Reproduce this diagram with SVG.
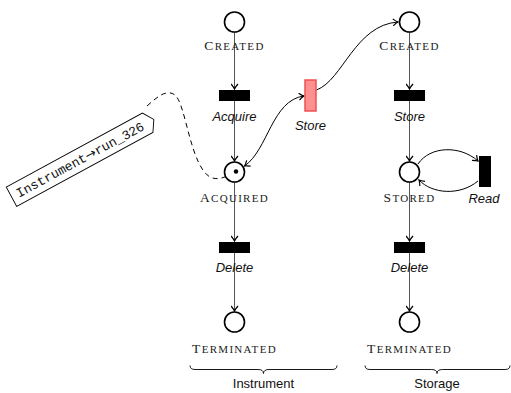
<svg xmlns="http://www.w3.org/2000/svg" width="511" height="393" viewBox="0 0 511 393">
<style>
.place{fill:#fff;stroke:#000;stroke-width:1.6}
.trans{fill:#000}
.red{fill:#ff9090;stroke:#f05050;stroke-width:1.5}
.sc{font-family:"Liberation Serif",serif;font-size:11px;fill:#222;text-anchor:middle;letter-spacing:1.3px}
.sc .b{font-size:13.5px}
.it{font-family:"Liberation Sans",sans-serif;font-style:italic;font-size:13px;fill:#111;text-anchor:middle}
.sans{font-family:"Liberation Sans",sans-serif;font-size:13px;fill:#111;text-anchor:middle}
.mono{font-family:"Liberation Mono",monospace;font-size:13px;fill:#111;text-anchor:middle}
.mono .ar{font-family:"DejaVu Sans",sans-serif}
.arc{fill:none;stroke:#555;stroke-width:1}
.cur{fill:none;stroke:#000;stroke-width:1}
.dash{fill:none;stroke:#000;stroke-width:1;stroke-dasharray:5,4}
.brace{fill:none;stroke:#000;stroke-width:0.9}
</style>
<defs>
<marker id="arr" viewBox="-6 -4 7 8" markerWidth="7" markerHeight="8" refX="0" refY="0" orient="auto-start-reverse" markerUnits="userSpaceOnUse">
<path d="M-5,-3.5 Q-2,-0.8 0,0 Q-2,0.8 -5,3.5" fill="none" stroke="#000" stroke-width="1.2"/>
</marker>
</defs>

<g id="connectors">
<path class="arc" d="M234.5,32 L234.5,89" marker-end="url(#arr)"/>
<path class="arc" d="M234.5,101 L234.5,161" marker-end="url(#arr)"/>
<path class="arc" d="M234.5,182 L234.5,241" marker-end="url(#arr)"/>
<path class="arc" d="M234.5,253 L234.5,311" marker-end="url(#arr)"/>
<path class="arc" d="M409.5,32 L409.5,89" marker-end="url(#arr)"/>
<path class="arc" d="M409.5,101 L409.5,161" marker-end="url(#arr)"/>
<path class="arc" d="M409.5,182 L409.5,241" marker-end="url(#arr)"/>
<path class="arc" d="M409.5,253 L409.5,311" marker-end="url(#arr)"/>
<path class="cur" d="M244.5,166 C268,150 272,100 304,96" marker-start="url(#arr)" marker-end="url(#arr)"/>
<path class="cur" d="M316.5,90 C343,80 355,25 398,22" marker-end="url(#arr)"/>
<path class="cur" d="M418,164 C430,146 460,145 478,161" marker-end="url(#arr)"/>
<path class="cur" d="M478,181 C460,196 432,194 419,180" marker-end="url(#arr)"/>
<path class="dash" d="M147,106 C158,96 167,89 175,95 C186,104 190,165 210,177 C218,181 226,177 235.5,171.5"/>
</g>

<g id="inst-created">
<circle class="place" cx="234.5" cy="22" r="10"/>
<text class="sc" x="234.5" y="50"><tspan class="b">C</tspan>REATED</text>
</g>
<g id="inst-acquire">
<rect class="trans" x="219" y="90" width="31" height="11"/>
<text class="it" x="234.5" y="121">Acquire</text>
</g>
<g id="inst-acquired">
<circle class="place" cx="234.5" cy="172" r="10"/>
<circle cx="236" cy="171.5" r="2.2" fill="#000"/>
<text class="sc" x="234.5" y="202"><tspan class="b">A</tspan>CQUIRED</text>
</g>
<g id="inst-delete">
<rect class="trans" x="219" y="242" width="31" height="11"/>
<text class="it" x="234.5" y="272">Delete</text>
</g>
<g id="inst-terminated">
<circle class="place" cx="234.5" cy="322" r="10"/>
<text class="sc" x="234.5" y="353"><tspan class="b">T</tspan>ERMINATED</text>
</g>

<g id="store-transfer">
<rect class="red" x="305" y="80" width="11" height="31"/>
<text class="it" x="310.5" y="130">Store</text>
</g>

<g id="stor-created">
<circle class="place" cx="409.5" cy="22" r="10"/>
<text class="sc" x="409.5" y="50"><tspan class="b">C</tspan>REATED</text>
</g>
<g id="stor-store">
<rect class="trans" x="394" y="90" width="31" height="11"/>
<text class="it" x="409.5" y="121">Store</text>
</g>
<g id="stor-stored">
<circle class="place" cx="409.5" cy="172" r="10"/>
<text class="sc" x="409.5" y="202"><tspan class="b">S</tspan>TORED</text>
</g>
<g id="stor-read">
<rect class="trans" x="479" y="156" width="12" height="31"/>
<text class="it" x="484" y="203">Read</text>
</g>
<g id="stor-delete">
<rect class="trans" x="394" y="242" width="31" height="11"/>
<text class="it" x="409.5" y="272">Delete</text>
</g>
<g id="stor-terminated">
<circle class="place" cx="409.5" cy="322" r="10"/>
<text class="sc" x="409.5" y="353"><tspan class="b">T</tspan>ERMINATED</text>
</g>

<g id="token-label" transform="translate(80,159.5) rotate(-28.5)">
<path d="M-78,-11 L77,-11 L84,0 L77,11 L-78,11 Z" fill="#fff" stroke="#000" stroke-width="0.9"/>
<text class="mono" x="0" y="4.5">Instrument<tspan class="ar">→</tspan>run_326</text>
</g>

<g id="brace-instrument">
<path class="brace" d="M190,365.5 Q190,369.5 195,369.5 L258,369.5 Q263.5,369.5 263.5,373.5 Q263.5,369.5 269,369.5 L332,369.5 Q337,369.5 337,365.5"/>
<text class="sans" x="263.5" y="388">Instrument</text>
</g>
<g id="brace-storage">
<path class="brace" d="M365,365.5 Q365,369.5 370,369.5 L431.5,369.5 Q437,369.5 437,373.5 Q437,369.5 442.5,369.5 L505,369.5 Q510,369.5 510,365.5"/>
<text class="sans" x="437" y="388">Storage</text>
</g>
</svg>
